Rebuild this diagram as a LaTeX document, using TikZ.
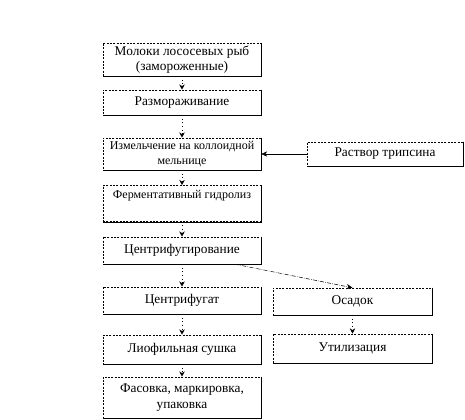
\documentclass[tikz,border=0pt]{standalone}
\usepackage{fontspec}
\setmainfont{Liberation Serif}
\usetikzlibrary{arrows.meta, positioning}
\tikzset{
  stage/.style={
    draw,
    dash pattern=on 1.5pt off 1pt,
    thin,
    fill=white,
    minimum width=118.5pt,
    inner sep=1pt,
    align=center,
    font=\fontsize{10}{11.5}\selectfont
  },
  smalltext/.style={
    font=\fontsize{9}{11}\selectfont
  },
  flow/.style={
    line width=0.7pt,
    dotted,
    -{Stealth[length=4pt, width=4pt]}
  },
  feed/.style={
    thin,
    -{Stealth[length=4.5pt, width=4pt]}
  }
}

\begin{document}
\begin{tikzpicture}[x=0.75pt, y=-0.75pt]
      \useasboundingbox (0,0) rectangle (465,419);
      \node[stage, minimum height=24.75pt] (milt) at (182,59.5) {Молоки лососевых рыб\\(замороженные)};
      \node[stage, minimum height=18.75pt] (thaw) at (182,102.5) {Размораживание};
      \node[stage, smalltext, minimum height=24pt] (grind) at (182,154) {Измельчение на коллоидной\\мельнице};
      \node[stage, minimum height=18pt, minimum width=117pt] (trypsin) at (385,154) {Раствор трипсина};
      \node[stage, smalltext, minimum height=27pt] (hydro) at (182,203.5) {Ферментативный гидролиз\\\strut};
      \node[stage, minimum height=20.25pt] (centr) at (182,250.5) {Центрифугирование};
      \node[stage, minimum height=20.25pt] (fugate) at (182,300.5) {Центрифугат};
      \node[stage, minimum height=20.25pt, minimum width=119pt] (sediment) at (352.5,301.5) {Осадок};
      \node[stage, minimum height=21.75pt, minimum width=119pt] (disposal) at (352.5,348.5) {Утилизация};
      \node[stage, minimum height=21.75pt] (dry) at (182,349.5) {Лиофильная сушка};
      \node[stage, minimum height=30.75pt] (pack) at (182,397.5) {Фасовка, маркировка,\\упаковка};

      % solid right and bottom edges
      \foreach \n in {milt, thaw, grind, trypsin, hydro, centr, fugate, sediment, disposal, dry, pack}
        \draw[thin] (\n.north east) -- (\n.south east) -- (\n.south west);

      \draw[flow] (milt) -- (thaw);
      \draw[flow] (thaw) -- (grind);
      \draw[flow] (grind) -- (hydro);
      \draw[flow] (hydro) -- (centr);
      \draw[flow] (centr) -- (fugate);
      \draw[flow] (fugate) -- (dry);
      \draw[flow] (dry) -- (pack);
      \draw[flow] (sediment) -- (disposal);
      \draw[feed] (trypsin) -- (grind);
      \draw[feed, densely dash dot] ([xshift=-19.5pt]centr.south east) -- (sediment.north);
    \end{tikzpicture}
\end{document}
